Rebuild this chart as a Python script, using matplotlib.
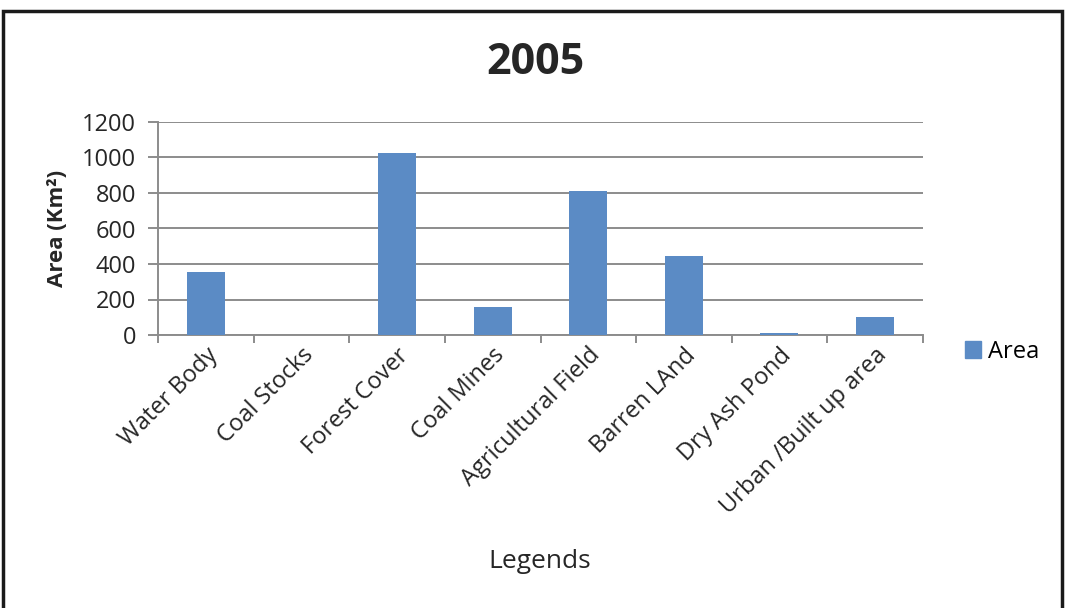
import matplotlib
matplotlib.use('Agg')
import matplotlib.pyplot as plt
import matplotlib.patches as mpatches
import numpy as np

# ── data ─────────────────────────────────────────────
categories = ['Water Body', 'Coal Stocks', 'Forest Cover', 'Coal Mines',
              'Agricultural Field', 'Barren LAnd', 'Dry Ash Pond',
              'Urban /Built up area']
area = [353, 2, 1027, 157, 812, 444, 12, 100]
y_ticks = [0, 200, 400, 600, 800, 1000, 1200]

BAR_COLOR = '#5B8BC5'
GRID_COLOR = '#8C8C8C'
TEXT_COLOR = '#262626'

plt.rcParams['font.family'] = ['Open Sans', 'DejaVu Sans']

fig = plt.figure(figsize=(10.66, 6.08), dpi=100)
fig.patch.set_facecolor('white')

# outer frame (runs off the bottom edge)
frame = mpatches.Rectangle((3 / 1066, -0.05), 1059 / 1066, 1.05 - 11 / 608,
                           transform=fig.transFigure, fill=False,
                           edgecolor='#1a1a1a', linewidth=2.5, clip_on=False)
fig.patches.append(frame)

ax = fig.add_axes([158.3 / 1066, (608 - 335) / 608, 764.4 / 1066, 213 / 608])
ax.set_facecolor('none')

x = np.arange(len(categories))
ax.bar(x, area, width=0.4, color=BAR_COLOR, zorder=3)

ax.set_xlim(-0.5, len(categories) - 0.5)
ax.set_ylim(0, 1200)
ax.set_yticks(y_ticks)
ax.set_yticklabels([str(v) for v in y_ticks], fontsize=17, color=TEXT_COLOR)
ax.yaxis.grid(True, color=GRID_COLOR, linewidth=1.4, zorder=0)
ax.set_axisbelow(True)

# category boundaries carry the tick marks, labels sit at the centres
ax.set_xticks(np.arange(len(categories) + 1) - 0.5)
ax.set_xticklabels([])
ax.tick_params(axis='x', which='major', length=6, color=GRID_COLOR, width=1.4)
ax.tick_params(axis='y', length=7, color=GRID_COLOR, width=1.4, pad=9)
ax.set_xticks(x, minor=True)
ax.set_xticklabels(categories, minor=True, rotation=45, ha='right',
                   rotation_mode='anchor', fontsize=17, color=TEXT_COLOR)
ax.tick_params(axis='x', which='minor', length=0, pad=6)

for side in ('top', 'right'):
    ax.spines[side].set_visible(False)
for side in ('left', 'bottom'):
    ax.spines[side].set_color(GRID_COLOR)
    ax.spines[side].set_linewidth(1.4)

ax.set_ylabel('Area (Km²)', fontsize=16, fontweight='bold',
              color=TEXT_COLOR, labelpad=10)
fig.text(535 / 1066, 1 - 62 / 608, '2005', fontsize=31, fontweight='bold',
         color=TEXT_COLOR, ha='center', va='center')
fig.text(540 / 1066, 1 - 561 / 608, 'Legends', fontsize=19,
         color=TEXT_COLOR, ha='center', va='center')

# legend box on the right
handle = mpatches.Patch(color=BAR_COLOR, label='Area')
fig.legend(handles=[handle], loc='center left',
           bbox_to_anchor=(953 / 1066, 1 - 352 / 608), frameon=False,
           fontsize=17, handlelength=0.7, handleheight=0.7,
           handletextpad=0.3, borderpad=0)

fig.savefig('out.png', dpi=100, facecolor=fig.get_facecolor())
